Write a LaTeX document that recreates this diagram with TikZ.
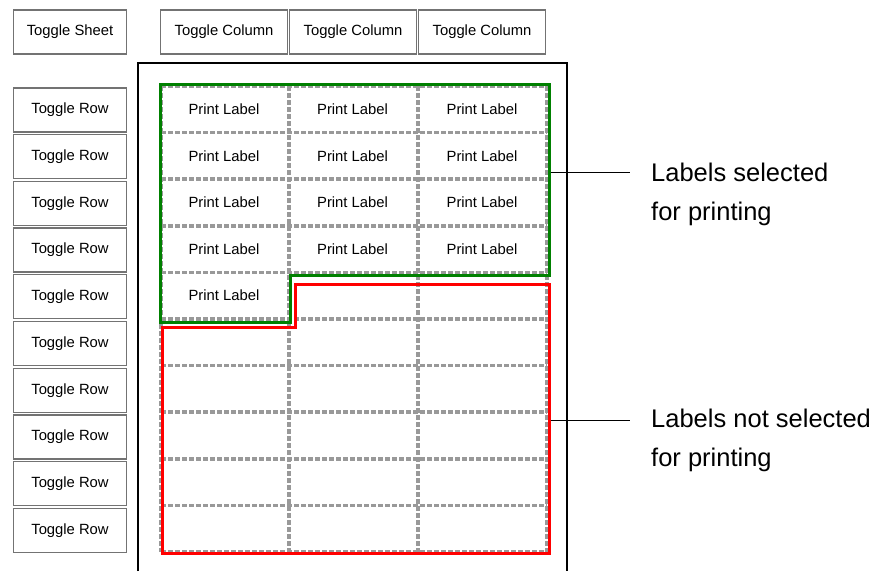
\documentclass[tikz,border=0pt]{standalone}
\usepackage{fontspec}
\setmainfont{Liberation Sans}
\usepackage{tikz}
\tikzset{togglebtn/.style={draw=black!55, line width=1.3pt, fill=white,
      inner sep=0pt, minimum height=44pt, font=\fontsize{14.8}{16}\selectfont}}
\tikzset{printlabel/.style={inner sep=0pt, font=\fontsize{14.8}{16}\selectfont}}
\tikzset{gridline/.style={draw=black!40, line width=3.6pt, dash pattern=on 4.5pt off 2.5pt}}
\tikzset{callout/.style={inner sep=0pt, align=left, anchor=west,
      font=\fontsize{25.5}{39}\selectfont}}

\begin{document}
\begin{tikzpicture}[x=1pt,y=-1pt]
    \useasboundingbox[fill=white] (0,0) rectangle (882,571);
    % buttons
    \node[togglebtn, minimum width=113pt] (sheet) at (70,32) {Toggle Sheet};
    \foreach \c/\x in {1/224,2/353,3/482}
      \node[togglebtn, minimum width=127pt] (col\c) at (\x,32) {Toggle Column};
    \foreach \r in {1,...,10}
      \node[togglebtn, minimum width=113pt] (row\r) at (70,{110+46.7*(\r-1)}) {Toggle Row};
    % sheet
    \draw[line width=1.2pt] (138,571) -- (138,63) -- (567,63) -- (567,571);
    % grid of labels
    \foreach \y in {86,132.6,...,553}
      \draw[gridline] (161,\y) -- (547,\y);
    \foreach \x in {161,289,418,547}
      \draw[gridline] (\x,86) -- (\x,552);
    \foreach \r in {1,...,4}
      \foreach \c/\x in {1/224,2/352.5,3/482}
        \node[printlabel] (lbl\r\c) at (\x,{109.3+46.6*(\r-1)}) {Print Label};
    \node[printlabel] (lbl51) at (224,295.7) {Print Label};
    % selected / not selected
    \draw[draw={rgb,255:red,0;green,128;blue,0}, line width=3pt]
      (160,84) -- (549,84) -- (549,275) -- (290.5,275) -- (290.5,322.5) -- (160,322.5) -- cycle;
    \draw[draw={rgb,255:red,255;green,0;blue,0}, line width=3pt]
      (295.5,284) -- (549,284) -- (549,553) -- (162,553) -- (162,327) -- (295.5,327) -- cycle;
    % callouts
    \coordinate (selA) at (550.5,172);
    \coordinate (selB) at (630,172);
    \draw[line width=1pt] (selA) -- (selB);
    \node[callout] (sel) at (651,194) {Labels selected\\for printing};
    \coordinate (notA) at (550.5,420);
    \coordinate (notB) at (630,420);
    \draw[line width=1pt] (notA) -- (notB);
    \node[callout] (notsel) at (651,440) {Labels not selected\\for printing};
  \end{tikzpicture}
\end{document}
